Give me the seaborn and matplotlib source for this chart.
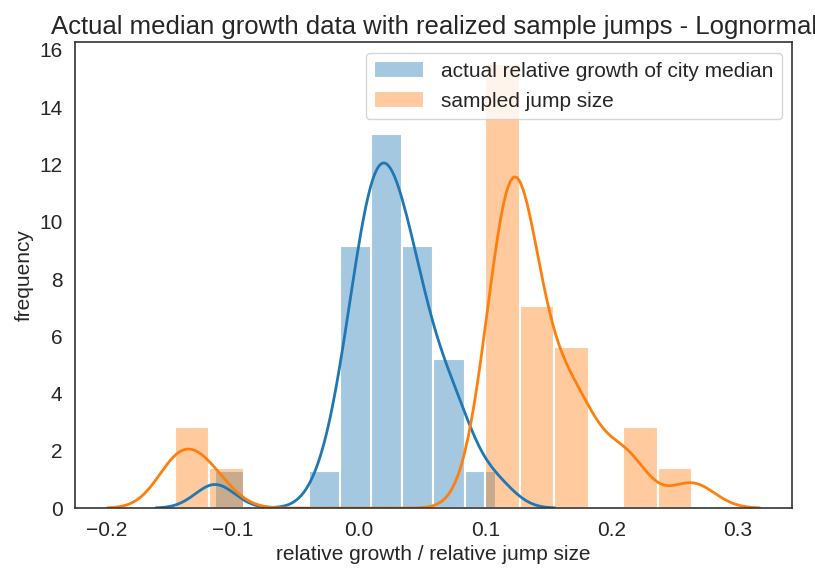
import numpy as np
import pandas as pd
import matplotlib
matplotlib.use("Agg")
import matplotlib.pyplot as plt
import seaborn as sns

# Relative growth of the city median, period over period
actual_growth = [
    -0.114,
    -0.024,
    -0.010, -0.006, -0.002, 0.001, 0.004, 0.006, 0.008,
    0.011, 0.014, 0.016, 0.018, 0.020, 0.022, 0.024, 0.026, 0.029, 0.032,
    0.036, 0.039, 0.042, 0.045, 0.048, 0.052, 0.056,
    0.066, 0.073, 0.078, 0.083,
    0.1083,
]

# Realized jump sizes drawn from the fitted lognormal jump model
sampled_jumps = [
    -0.1457, -0.137,
    -0.116,
    0.103, 0.108, 0.112, 0.115, 0.117, 0.119, 0.121, 0.122, 0.124, 0.125, 0.126,
    0.128, 0.132, 0.137, 0.143, 0.150,
    0.162, 0.169, 0.175, 0.180,
    0.2095, 0.213,
    0.2638,
]

series_labels = ["actual relative growth of city median", "sampled jump size"]
series_bins = [9, 15]


def robust_scott(kde):
    """Scott's rule using min(std, IQR/1.349) as the scale estimate."""
    x = np.asarray(kde.dataset).ravel()
    n = x.size
    sd = np.std(x, ddof=1)
    q75, q25 = np.percentile(x, [75, 25])
    scale = min(sd, (q75 - q25) / 1.349)
    bw = 1.059 * scale * n ** (-0.2)
    return bw / sd


sns.set_theme(style="white")
plt.rcParams["font.family"] = ["Liberation Sans", "DejaVu Sans"]

fig = plt.figure(figsize=(8.15, 5.69), dpi=100)
ax = fig.add_axes([0.092, 0.107, 0.880, 0.819])

palette = sns.color_palette("tab10")
for values, label, nbins, color in zip(
    [actual_growth, sampled_jumps], series_labels, series_bins, palette[:2]
):
    data = pd.Series(values)
    sns.histplot(
        x=data, bins=nbins, stat="density", color=color, alpha=0.4,
        edgecolor="white", linewidth=1.5, label=label, ax=ax,
    )
    sns.kdeplot(
        x=data, bw_method=robust_scott, cut=3, color=color,
        linewidth=2.0, ax=ax,
    )

ax.set_title("Actual median growth data with realized sample jumps - Lognormal",
             fontsize=18.5)
ax.set_xlabel("relative growth / relative jump size", fontsize=15)
ax.set_ylabel("frequency", fontsize=15)
ax.tick_params(labelsize=15, pad=3)
ax.set_yticks(np.arange(0, 17, 2))
for spine in ax.spines.values():
    spine.set_edgecolor("#333333")
    spine.set_linewidth(1.2)

handles, labels = ax.get_legend_handles_labels()
ax.legend(handles, labels, loc="upper right", fontsize=15,
          handlelength=2.4, handleheight=0.9)

fig.savefig("out.png", dpi=100)
